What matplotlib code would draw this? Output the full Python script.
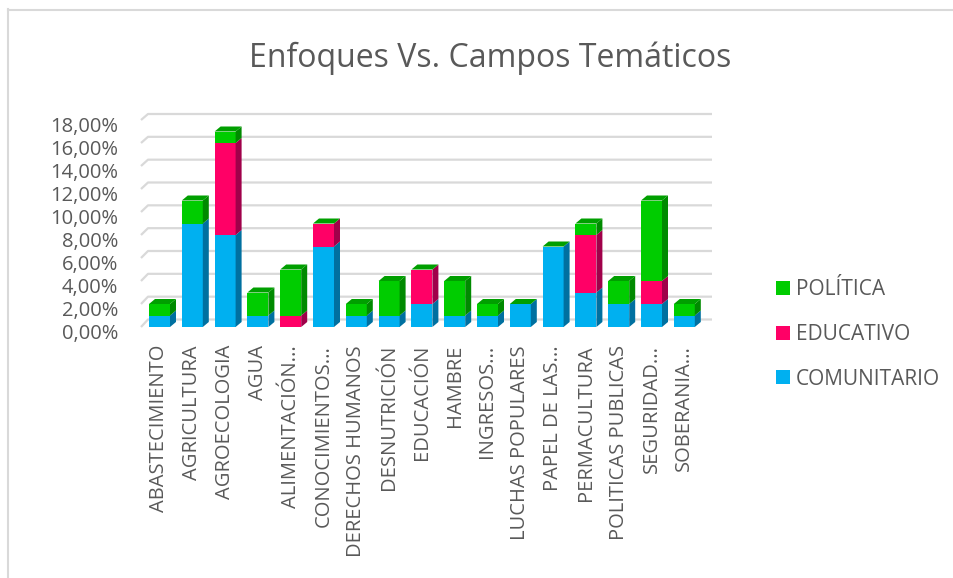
import matplotlib.pyplot as plt
import matplotlib.transforms as mtransforms
from matplotlib.patches import Polygon, Patch
from matplotlib.lines import Line2D

plt.rcParams['font.family'] = ['Open Sans', 'DejaVu Sans']

# Data (percent of total)
categories = ['ABASTECIMIENTO', 'AGRICULTURA', 'AGROECOLOGIA', 'AGUA', 'ALIMENTACIÓN...',
              'CONOCIMIENTOS...', 'DERECHOS HUMANOS', 'DESNUTRICIÓN', 'EDUCACIÓN', 'HAMBRE',
              'INGRESOS...', 'LUCHAS POPULARES', 'PAPEL DE LAS...', 'PERMACULTURA',
              'POLITICAS PUBLICAS', 'SEGURIDAD...', 'SOBERANIA...']
comunitario = [1, 9, 8, 1, 0, 7, 1, 1, 2, 1, 1, 2, 7, 3, 2, 2, 1]
educativo = [0, 0, 8, 0, 1, 2, 0, 0, 3, 0, 0, 0, 0, 5, 0, 2, 0]
politica = [1, 2, 1, 2, 4, 0, 1, 3, 0, 3, 1, 0, 0, 1, 2, 7, 1]
y_ticks = [0, 2, 4, 6, 8, 10, 12, 14, 16, 18]

series = [
    ('COMUNITARIO', comunitario, '#00b0f0', '#0070a0'),
    ('EDUCATIVO', educativo, '#ff0066', '#a0004a'),
    ('POLÍTICA', politica, '#00cc00', '#008a00'),
]
top_color = '#009f00'
text_color = '#595959'
grid_color = '#d9d9d9'

W, H = 954, 578
fig = plt.figure(figsize=(W / 100, H / 100), dpi=100)

# axes placed in pixels
ax_l, ax_r, ax_top, ax_bot = 141, 712, 120, 327
ax = fig.add_axes([ax_l / W, 1 - ax_bot / H, (ax_r - ax_l) / W, (ax_bot - ax_top) / H])

step_px = 32.8
first_px = 159.5
x0 = -(first_px - ax_l) / step_px
x1 = (len(categories) - 1) + (ax_r - (first_px + step_px * (len(categories) - 1))) / step_px
ax.set_xlim(x0, x1)
ax.set_ylim(0, 18)

px_x = 1 / step_px                 # data units per pixel (x)
px_y = 18 / (ax_bot - ax_top)      # data units per pixel (y)

# back wall gridlines
wall_dx = 7 * px_x
for v in y_ticks:
    wall_dy = (7.5 - v / 18 * 1.5) * px_y
    ax.plot([x0, x0 + wall_dx, x1], [v, v + wall_dy, v + wall_dy],
            color=grid_color, lw=1.6, zorder=1, clip_on=False, solid_capstyle='butt')

# 3D looking stacked bars
bw = 21 / step_px
ddx, ddy = 6 * px_x, 5 * px_y
xs = list(range(len(categories)))
bottoms = [0] * len(categories)
for name, vals, col, side in series:
    ax.bar(xs, vals, width=bw, bottom=bottoms, color=col, zorder=3, linewidth=0)
    for i, v in enumerate(vals):
        if v == 0:
            continue
        b, t = bottoms[i], bottoms[i] + v
        xr = i + bw / 2
        ax.add_patch(Polygon([(xr, b), (xr + ddx, b + ddy), (xr + ddx, t + ddy), (xr, t)],
                             closed=True, facecolor=side, edgecolor='none', zorder=3))
    bottoms = [b + v for b, v in zip(bottoms, vals)]

# top face always takes the colour of the last series
for i, tot in enumerate(bottoms):
    xl, xr = i - bw / 2, i + bw / 2
    ax.add_patch(Polygon([(xl, tot), (xr, tot), (xr + ddx, tot + ddy), (xl + ddx, tot + ddy)],
                         closed=True, facecolor=top_color, edgecolor='none', zorder=3))

for s in ax.spines.values():
    s.set_visible(False)
ax.set_yticks(y_ticks)
ax.set_yticklabels([f'{v:.2f}%'.replace('.', ',') for v in y_ticks])
ax.set_xticks(xs)
ax.set_xticklabels(categories, rotation=90, va='top', ha='center')
ax.tick_params(axis='y', length=0, pad=16.5, labelsize=14.5, labelcolor=text_color)
ax.tick_params(axis='x', length=0, pad=13, labelsize=14.5, labelcolor=text_color)

# value labels sit a little lower than the bar scale (perspective)
shift = mtransforms.ScaledTranslation(0, -4.5 / 100, fig.dpi_scale_trans)
for lbl in ax.get_yticklabels():
    lbl.set_transform(lbl.get_transform() + shift)

fig.text(490 / W, 1 - 58 / H, 'Enfoques Vs. Campos Temáticos', ha='center', va='center',
         fontsize=23, color=text_color)

handles = [Patch(facecolor=col, edgecolor='none', label=name) for name, _, col, _ in series[::-1]]
leg = fig.legend(handles=handles, loc='center left', bbox_to_anchor=(776 / W, 1 - 334.5 / H),
                 frameon=False, fontsize=15, handlelength=0.67, handleheight=0.67,
                 handletextpad=0.3, labelspacing=1.13, labelcolor=text_color,
                 borderaxespad=0, borderpad=0)

# chart frame (top and left edges visible)
fig.add_artist(Line2D([8.5 / W, 8.5 / W], [0, 1 - 9 / H], color=grid_color, lw=1.5))
fig.add_artist(Line2D([8.5 / W, 1], [1 - 9.5 / H, 1 - 9.5 / H], color=grid_color, lw=1.5))

fig.savefig('out.png', dpi=100)
